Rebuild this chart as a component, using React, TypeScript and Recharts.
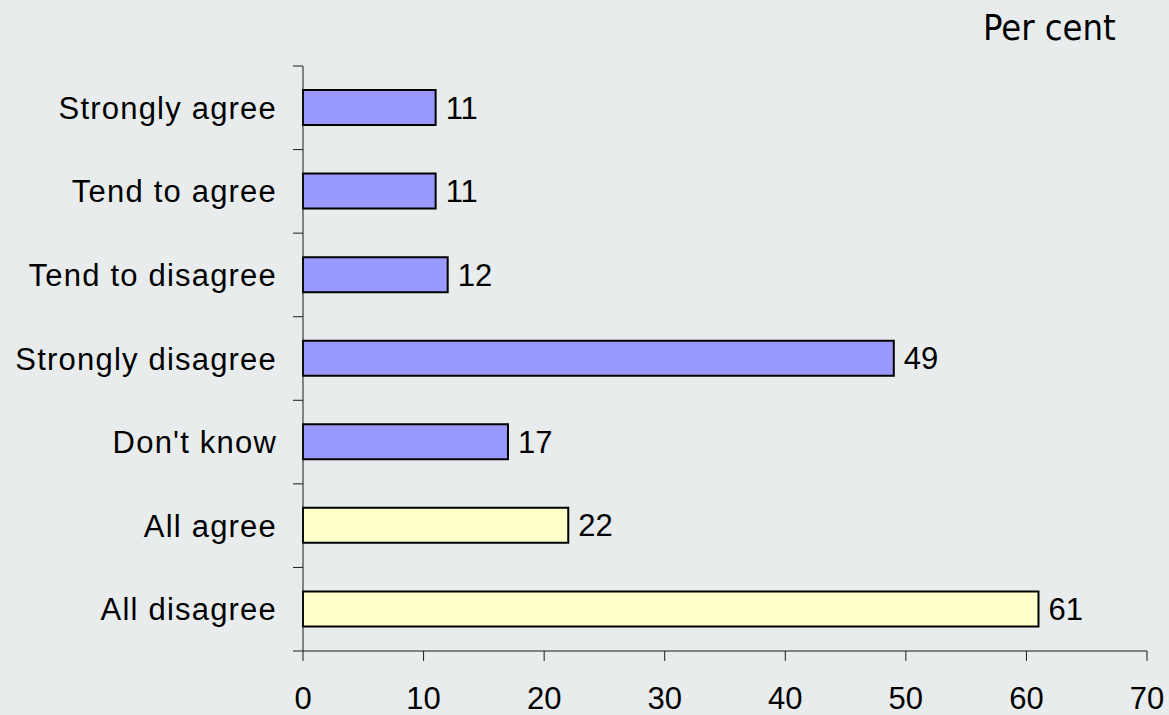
import { Bar, BarChart, Cell, LabelList, XAxis, YAxis } from 'recharts';

const categories = [
  'Strongly agree',
  'Tend to agree',
  'Tend to disagree',
  'Strongly disagree',
  "Don't know",
  'All agree',
  'All disagree',
];
const values = [11, 11, 12, 49, 17, 22, 61];
const groups = ['detail', 'detail', 'detail', 'detail', 'detail', 'total', 'total'];
const xTicks = [0, 10, 20, 30, 40, 50, 60, 70];

const groupColors: Record<string, string> = { detail: '#9999FF', total: '#FFFFCC' };

const rows = categories.map((name, i) => ({ name, value: values[i], group: groups[i] }));

const W = 1169;
const H = 715;
const TOP = 66;
const BOTTOM = 651;
const BAND = (BOTTOM - TOP) / categories.length;
const FONT = '"Liberation Sans", Arial, sans-serif';
const AXIS = '#1a1a1a';

function CategoryTick(props: any) {
  const { x, y, payload, index } = props;
  const last = index === categories.length - 1;
  return (
    <g>
      <line x1={x - 10} x2={x} y1={y - BAND / 2} y2={y - BAND / 2} stroke={AXIS} />
      {last && <line x1={x - 10} x2={x} y1={y + BAND / 2} y2={y + BAND / 2} stroke={AXIS} />}
      <text
        x={x - 26}
        y={y + 11}
        textAnchor="end"
        fill="#000"
        fontSize={31}
        fontFamily={FONT}
        letterSpacing={1.2}
      >
        {payload.value}
      </text>
    </g>
  );
}

export default function App() {
  return (
    <div
      style={{
        position: 'absolute',
        left: 0,
        top: 0,
        width: W,
        height: H,
        background: '#E8ECED',
        fontFamily: FONT,
      }}
    >
      <div
        style={{
          position: 'absolute',
          left: 983,
          top: 8,
          fontSize: 36,
          fontFamily: '"DejaVu Sans Condensed", "DejaVu Sans", sans-serif',
          color: '#000',
          lineHeight: '40px',
        }}
      >
        Per cent
      </div>
      <BarChart
        width={W}
        height={H}
        layout="vertical"
        data={rows}
        margin={{ top: TOP, right: 22, bottom: 0, left: 0 }}
      >
        <XAxis
          type="number"
          domain={[0, 70]}
          ticks={xTicks}
          interval={0}
          height={H - BOTTOM}
          tickSize={10}
          tickMargin={26}
          stroke={AXIS}
          tick={{ fill: '#000', fontSize: 31, fontFamily: FONT }}
        />
        <YAxis
          type="category"
          dataKey="name"
          width={303}
          tickSize={0}
          tickMargin={0}
          tickLine={false}
          stroke={AXIS}
          tick={<CategoryTick />}
          interval={0}
        />
        <Bar dataKey="value" barSize={35} stroke="#000" strokeWidth={2} isAnimationActive={false}>
          {rows.map((r, i) => (
            <Cell key={`cell-${i}`} fill={groupColors[r.group]} />
          ))}
          <LabelList
            dataKey="value"
            position="right"
            offset={10}
            fill="#000"
            fontSize={31}
            fontFamily={FONT}
          />
        </Bar>
      </BarChart>
    </div>
  );
}
